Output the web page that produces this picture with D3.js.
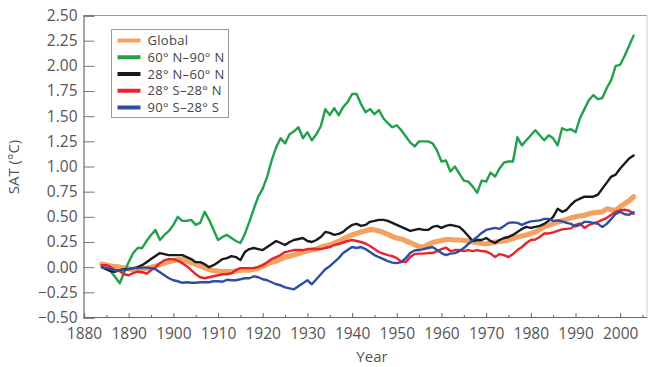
<!DOCTYPE html>
<html>
<head>
<meta charset="utf-8">
<script src="https://cdn.jsdelivr.net/npm/d3@7/dist/d3.min.js"></script>
<style>
  html, body { margin: 0; padding: 0; background: #fff; }
  svg { display: block; font-family: "Open Sans", "Noto Sans", sans-serif; }
</style>
</head>
<body>
<svg id="chart" width="650" height="367"></svg>
<script>
// Surface air temperature anomalies by latitude band, 1884–2003
const firstYear = 1884;
const lastYear = 2003;
const years = d3.range(firstYear, lastYear + 1);

const seriesNames = ["Global", "60° N–90° N", "28° N–60° N", "28° S–28° N", "90° S–28° S"];
const seriesColors = ["#f4a261", "#22a04b", "#1a1a1a", "#e8232b", "#2d4ea3"];

const globalSAT = [
  0.03, 0.02, 0.01, 0.005, 0.00, -0.01, -0.015, -0.025, -0.025, -0.02,
  -0.01, 0.00, 0.01, 0.025, 0.04, 0.055, 0.065, 0.075, 0.075, 0.06,
  0.045, 0.03, 0.01, -0.005, -0.025, -0.035, -0.04, -0.045, -0.045, -0.045,
  -0.04, -0.03, -0.03, -0.03, -0.02, -0.01, 0.01, 0.03, 0.05, 0.06,
  0.08, 0.10, 0.11, 0.12, 0.135, 0.15, 0.16, 0.17, 0.18, 0.20,
  0.21, 0.22, 0.24, 0.255, 0.28, 0.30, 0.32, 0.335, 0.35, 0.36,
  0.375, 0.37, 0.36, 0.345, 0.325, 0.305, 0.29, 0.28, 0.26, 0.245,
  0.225, 0.205, 0.20, 0.225, 0.245, 0.255, 0.265, 0.275, 0.275, 0.27,
  0.27, 0.265, 0.26, 0.25, 0.245, 0.235, 0.23, 0.24, 0.25, 0.255,
  0.26, 0.27, 0.285, 0.30, 0.31, 0.32, 0.335, 0.35, 0.375, 0.40,
  0.415, 0.43, 0.45, 0.46, 0.475, 0.49, 0.50, 0.51, 0.515, 0.53,
  0.54, 0.545, 0.55, 0.58, 0.57, 0.565, 0.60, 0.63, 0.66, 0.70
];

const arcticSAT = [
  0.00, -0.02, -0.04, -0.10, -0.16, -0.05, 0.05, 0.14, 0.19, 0.19,
  0.26, 0.32, 0.37, 0.27, 0.32, 0.36, 0.42, 0.50, 0.46, 0.46,
  0.47, 0.42, 0.44, 0.55, 0.47, 0.37, 0.27, 0.30, 0.32, 0.29,
  0.26, 0.24, 0.33, 0.45, 0.58, 0.70, 0.78, 0.90, 1.06, 1.19,
  1.28, 1.23, 1.32, 1.35, 1.39, 1.28, 1.34, 1.26, 1.32, 1.40,
  1.57, 1.51, 1.58, 1.51, 1.59, 1.64, 1.72, 1.72, 1.62, 1.54,
  1.57, 1.52, 1.56, 1.48, 1.43, 1.39, 1.41, 1.36, 1.30, 1.24,
  1.20, 1.25, 1.25, 1.25, 1.23, 1.16, 1.05, 1.06, 0.95, 1.00,
  0.93, 0.86, 0.85, 0.80, 0.74, 0.86, 0.85, 0.94, 0.90, 0.98,
  1.04, 1.05, 1.05, 1.29, 1.21, 1.26, 1.31, 1.36, 1.31, 1.26,
  1.31, 1.28, 1.21, 1.38, 1.36, 1.37, 1.34, 1.48, 1.57, 1.66,
  1.71, 1.67, 1.68, 1.78, 1.86, 2.00, 2.01, 2.10, 2.20, 2.30
];

const northMidSAT = [
  0.00, -0.02, -0.04, -0.045, -0.03, -0.02, -0.02, -0.01, 0.00, 0.02,
  0.05, 0.08, 0.11, 0.14, 0.13, 0.12, 0.12, 0.12, 0.12, 0.10,
  0.08, 0.05, 0.05, 0.03, 0.00, 0.02, 0.05, 0.08, 0.09, 0.11,
  0.10, 0.07, 0.15, 0.18, 0.19, 0.18, 0.17, 0.20, 0.23, 0.26,
  0.24, 0.22, 0.25, 0.27, 0.28, 0.29, 0.26, 0.25, 0.27, 0.30,
  0.35, 0.34, 0.32, 0.33, 0.35, 0.39, 0.42, 0.43, 0.41, 0.42,
  0.45, 0.46, 0.47, 0.47, 0.46, 0.44, 0.42, 0.40, 0.38, 0.36,
  0.37, 0.38, 0.37, 0.37, 0.40, 0.41, 0.39, 0.41, 0.42, 0.41,
  0.40, 0.36, 0.31, 0.26, 0.27, 0.27, 0.29, 0.26, 0.24, 0.27,
  0.29, 0.30, 0.32, 0.35, 0.38, 0.40, 0.39, 0.40, 0.41, 0.43,
  0.46, 0.50, 0.58, 0.55, 0.57, 0.62, 0.66, 0.68, 0.70, 0.70,
  0.70, 0.72, 0.78, 0.84, 0.90, 0.92, 0.98, 1.03, 1.08, 1.11
];

const tropicsSAT = [
  0.02, 0.02, 0.00, -0.03, -0.04, -0.07, -0.08, -0.06, -0.045, -0.05,
  -0.065, -0.03, 0.00, 0.04, 0.07, 0.08, 0.08, 0.065, 0.04, 0.01,
  -0.03, -0.07, -0.10, -0.11, -0.10, -0.09, -0.08, -0.07, -0.07, -0.06,
  -0.03, -0.01, -0.01, -0.01, -0.01, 0.00, 0.02, 0.05, 0.08, 0.10,
  0.12, 0.15, 0.16, 0.17, 0.17, 0.17, 0.18, 0.18, 0.18, 0.18,
  0.19, 0.20, 0.22, 0.23, 0.245, 0.26, 0.27, 0.26, 0.25, 0.235,
  0.21, 0.18, 0.15, 0.135, 0.12, 0.11, 0.09, 0.055, 0.05, 0.10,
  0.13, 0.135, 0.135, 0.14, 0.14, 0.16, 0.18, 0.195, 0.16, 0.17,
  0.17, 0.16, 0.17, 0.16, 0.17, 0.16, 0.155, 0.135, 0.10, 0.13,
  0.12, 0.10, 0.13, 0.17, 0.20, 0.24, 0.27, 0.275, 0.30, 0.335,
  0.335, 0.345, 0.36, 0.375, 0.38, 0.385, 0.42, 0.435, 0.39, 0.42,
  0.435, 0.45, 0.47, 0.49, 0.52, 0.55, 0.565, 0.57, 0.56, 0.53
];

const southSAT = [
  0.00, -0.01, -0.02, -0.03, -0.03, -0.03, -0.02, -0.01, -0.01, -0.005,
  -0.005, -0.01, -0.02, -0.05, -0.08, -0.11, -0.13, -0.14, -0.155, -0.15,
  -0.155, -0.155, -0.15, -0.15, -0.15, -0.14, -0.14, -0.145, -0.125, -0.13,
  -0.13, -0.12, -0.11, -0.11, -0.09, -0.10, -0.12, -0.13, -0.15, -0.17,
  -0.18, -0.20, -0.21, -0.22, -0.19, -0.16, -0.13, -0.17, -0.12, -0.07,
  -0.02, 0.01, 0.05, 0.09, 0.14, 0.17, 0.20, 0.19, 0.20, 0.18,
  0.15, 0.12, 0.10, 0.08, 0.06, 0.045, 0.04, 0.05, 0.09, 0.14,
  0.165, 0.17, 0.18, 0.19, 0.20, 0.17, 0.14, 0.12, 0.135, 0.14,
  0.16, 0.19, 0.23, 0.27, 0.30, 0.34, 0.37, 0.38, 0.39, 0.38,
  0.41, 0.44, 0.445, 0.44, 0.42, 0.44, 0.455, 0.46, 0.465, 0.48,
  0.48, 0.46, 0.465, 0.455, 0.44, 0.43, 0.405, 0.42, 0.45, 0.45,
  0.44, 0.43, 0.40, 0.43, 0.48, 0.53, 0.55, 0.525, 0.52, 0.545
];

const seriesValues = [globalSAT, arcticSAT, northMidSAT, tropicsSAT, southSAT];
const seriesWidths = [5.2, 2.4, 2.4, 2.4, 2.4];

const yTickValues = d3.range(-0.5, 2.5001, 0.25);
const xMajorTicks = d3.range(1880, 2001, 10);
const xMinorTicks = d3.range(1885, 2006, 10);

const svg = d3.select("#chart");
svg.append("rect").attr("width", 650).attr("height", 367).attr("fill", "#fff");

const plot = { left: 83.5, right: 647, top: 15.5, bottom: 317.5 };

const x = d3.scaleLinear().domain([1880, 2006]).range([84, 647]);
const y = d3.scaleLinear().domain([-0.5, 2.5]).range([plot.bottom, plot.top]);

// frame
svg.append("line").attr("x1", plot.left).attr("x2", plot.right)
  .attr("y1", plot.top).attr("y2", plot.top).attr("stroke", "#9a9a9a").attr("stroke-width", 1.2);
svg.append("line").attr("x1", plot.right).attr("x2", plot.right)
  .attr("y1", plot.top).attr("y2", plot.bottom).attr("stroke", "#d0d0d0").attr("stroke-width", 1);

const tickFont = 15.5;
const labelColor = "#555";

// y axis (ticks drawn inward)
const yAxis = svg.append("g")
  .attr("transform", `translate(${plot.left},0)`)
  .call(d3.axisLeft(y).tickValues(yTickValues).tickSize(-11).tickPadding(6)
    .tickFormat(d3.format(".2f")));
yAxis.select(".domain").attr("stroke", "#777").attr("stroke-width", 1.3);
yAxis.selectAll(".tick line").attr("stroke", "#777").attr("stroke-width", 1);
yAxis.selectAll("text").attr("font-size", tickFont).attr("fill", labelColor)
  .attr("font-family", "'Open Sans', sans-serif");

// x axis: labelled decades, small half-decade ticks
const xAxis = svg.append("g")
  .attr("transform", `translate(0,${plot.bottom})`)
  .call(d3.axisBottom(x).tickValues(xMajorTicks).tickSize(-4.5).tickPadding(10)
    .tickFormat(d3.format("d")));
xAxis.select(".domain").remove();
xAxis.selectAll(".tick line").attr("stroke", "#666");
xAxis.selectAll("text").attr("font-size", tickFont).attr("fill", labelColor)
  .attr("font-family", "'Open Sans', sans-serif");
svg.append("g").attr("transform", `translate(0,${plot.bottom})`)
  .call(d3.axisBottom(x).tickValues(xMinorTicks).tickSize(-2.5).tickFormat(""))
  .call(g => g.select(".domain").remove())
  .selectAll(".tick line").attr("stroke", "#666");
svg.append("line").attr("x1", plot.left).attr("x2", plot.right)
  .attr("y1", plot.bottom).attr("y2", plot.bottom).attr("stroke", "#666").attr("stroke-width", 1.2);

// axis titles
svg.append("text").attr("x", 372).attr("y", 362).attr("text-anchor", "middle")
  .attr("font-size", 15).attr("fill", labelColor).text("Year");
svg.append("text").attr("transform", "translate(19,167) rotate(-90)")
  .attr("text-anchor", "middle").attr("font-size", 15).attr("fill", labelColor).text("SAT (°C)");

// series lines
const line = d3.line()
  .x((d, i) => x(years[i]))
  .y(d => y(d));

svg.append("g").selectAll("path")
  .data(seriesValues)
  .join("path")
  .attr("d", d => line(d))
  .attr("fill", "none")
  .attr("stroke", (d, i) => seriesColors[i])
  .attr("stroke-width", (d, i) => seriesWidths[i])
  .attr("stroke-linejoin", "round")
  .attr("stroke-linecap", "round");

// legend
const legend = svg.append("g").attr("transform", "translate(111.5,29.5)");
legend.append("rect").attr("width", 117).attr("height", 88)
  .attr("fill", "#fff").attr("stroke", "#999").attr("stroke-width", 1);
const rowY = d3.scaleLinear().domain([0, 4]).range([11, 78]);
const rows = legend.selectAll("g.row").data(seriesNames).join("g")
  .attr("class", "row")
  .attr("transform", (d, i) => `translate(0,${rowY(i)})`);
rows.append("line").attr("x1", 6).attr("x2", 29).attr("y1", 0).attr("y2", 0)
  .attr("stroke", (d, i) => seriesColors[i]).attr("stroke-width", 4);
rows.append("text").attr("x", 36).attr("y", 0).attr("dy", "0.35em")
  .attr("font-size", 13).attr("letter-spacing", 0.3).attr("fill", "#444").text(d => d);
</script>
</body>
</html>
